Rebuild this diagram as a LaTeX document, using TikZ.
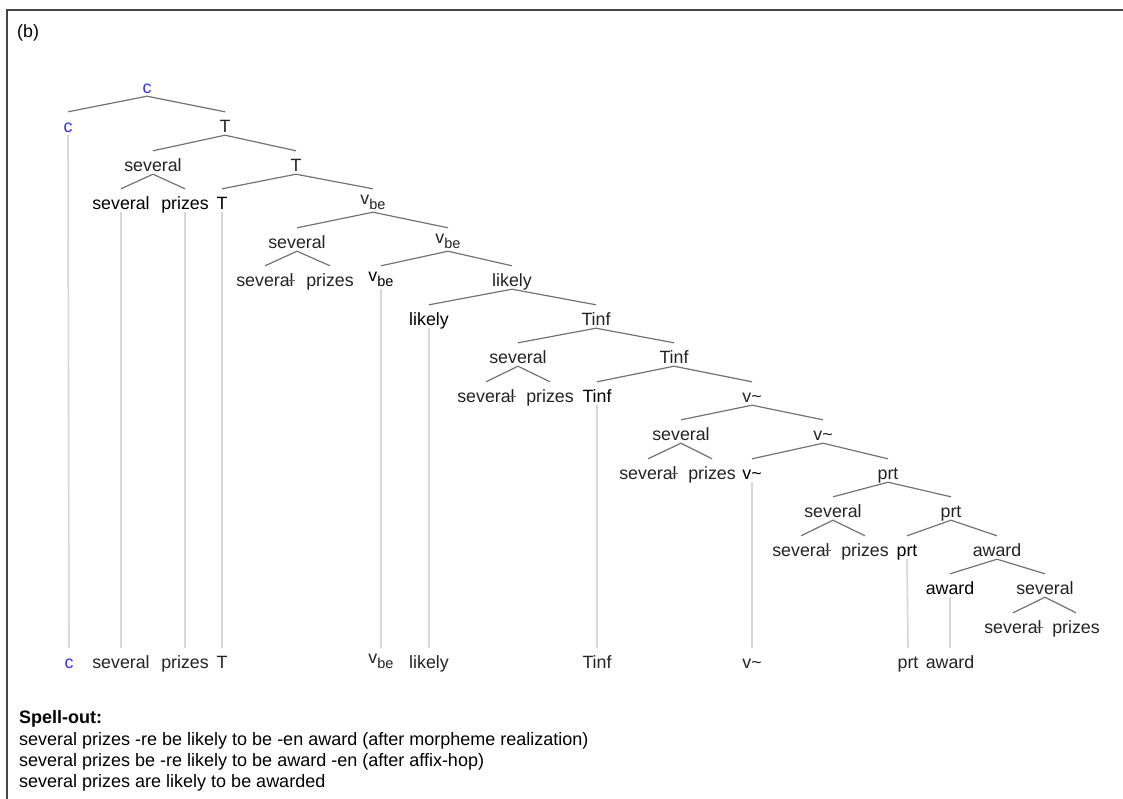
\documentclass[tikz,border=0pt]{standalone}
\usepackage{fontspec}
\setmainfont{Liberation Sans}
\definecolor{txt}{RGB}{35,35,35}
\definecolor{pron}{RGB}{0,0,0}
\definecolor{compl}{RGB}{50,50,245}
\definecolor{branch}{RGB}{115,115,115}
\definecolor{trace}{RGB}{215,215,215}
\definecolor{framecol}{RGB}{70,70,70}
\newcommand{\vbe}{\raisebox{5pt}{v}{\fontsize{14.5}{15}\selectfont be}}
\newcommand{\vtl}{v\textasciitilde}
\tikzset{
  lbl/.style={text=txt, inner sep=0pt, anchor=base, text height=20pt, text depth=3pt},
  pr/.style={lbl, text=pron},
  cmp/.style={lbl, text=compl},
  branchline/.style={draw=branch, line width=1.2pt},
  traceline/.style={draw=trace, line width=1.6pt},
  struck/.style={draw=txt!70, line width=0.9pt},
  spell/.style={text=black, inner sep=0pt, anchor=base west, font=\fontsize{18}{21}\selectfont},
}
\begin{document}
\begin{tikzpicture}[x=1pt, y=-1pt, font=\fontsize{17.8}{21}\selectfont]
\useasboundingbox (0,0) rectangle (1123,798);
\fill[white] (0,0) rectangle (1123,798);
% frame
\draw[draw=framecol, line width=2pt] (7,800) -- (7,9.5) -- (1125,9.5);
\node[anchor=base west, inner sep=0pt] (tag) at (17,37) {(b)};

% tree nodes, row by row
\node[cmp] (C0) at (147,93) {c};
\node[cmp] (c1) at (68,132) {c};
\node[lbl] (T1) at (225,132) {T};
\node[lbl] (sp1) at (153,171) {several};
\node[lbl] (T2) at (296,171) {T};
\node[pr] (s1) at (121,209) {several};
\node[pr] (p1) at (185,209) {prizes};
\node[pr] (T3) at (222,209) {T};
\node[lbl] (vb1) at (373,209) {\vbe};
\node[lbl] (sp2) at (297,248) {several};
\node[lbl] (vb2) at (448,248) {\vbe};
\node[lbl] (s2) at (265,286) {several};
\node[lbl] (p2) at (330,286) {prizes};
\node[pr] (vb3) at (381,286) {\vbe};
\node[lbl] (lk1) at (512,286) {likely};
\node[pr] (lk2) at (429,325) {likely};
\node[lbl] (ti1) at (596,325) {Tinf};
\node[lbl] (sp3) at (518,363) {several};
\node[lbl] (ti2) at (674,363) {Tinf};
\node[lbl] (s3) at (486,402) {several};
\node[lbl] (p3) at (550,402) {prizes};
\node[pr] (ti3) at (597,402) {Tinf};
\node[lbl] (vt1) at (752,402) {\vtl};
\node[lbl] (sp4) at (681,440) {several};
\node[lbl] (vt2) at (823,440) {\vtl};
\node[lbl] (s4) at (648,479) {several};
\node[lbl] (p4) at (712,479) {prizes};
\node[pr] (vt3) at (752,479) {\vtl};
\node[lbl] (pr1) at (888,479) {prt};
\node[lbl] (sp5) at (833,517) {several};
\node[lbl] (pr2) at (951,517) {prt};
\node[lbl] (s5) at (801,556) {several};
\node[lbl] (p5) at (865,556) {prizes};
\node[pr] (pr3) at (907,556) {prt};
\node[lbl] (aw1) at (997,556) {award};
\node[pr] (aw2) at (950,594) {award};
\node[lbl] (sp6) at (1045,594) {several};
\node[lbl] (s6) at (1013,633) {several};
\node[lbl] (p6) at (1076,633) {prizes};

% terminal string
\node[cmp] (f1) at (69,668) {c};
\node[lbl] (f2) at (121,668) {several};
\node[lbl] (f3) at (185,668) {prizes};
\node[lbl] (f4) at (222,668) {T};
\node[lbl] (f5) at (381,668) {\vbe};
\node[lbl] (f6) at (429,668) {likely};
\node[lbl] (f7) at (597,668) {Tinf};
\node[lbl] (f8) at (752,668) {\vtl};
\node[lbl] (f9) at (908,668) {prt};
\node[lbl] (f10) at (950,668) {award};

% branches
\foreach \p/\a/\b in {C0/c1/T1, T1/sp1/T2, sp1/s1/p1, T2/T3/vb1, vb1/sp2/vb2,
    sp2/s2/p2, vb2/vb3/lk1, lk1/lk2/ti1, ti1/sp3/ti2, sp3/s3/p3, ti2/ti3/vt1,
    vt1/sp4/vt2, sp4/s4/p4, vt2/vt3/pr1, pr1/sp5/pr2, sp5/s5/p5, pr2/pr3/aw1,
    aw1/aw2/sp6, sp6/s6/p6}
  {\draw[branchline] (\p.south) -- (\a.north);
   \draw[branchline] (\p.south) -- (\b.north);}

% lines from pronounced heads down to the terminal string
\foreach \h/\t in {c1/f1, s1/f2, p1/f3, T3/f4, vb3/f5, lk2/f6, ti3/f7, vt3/f8, pr3/f9, aw2/f10}
  {\draw[traceline] (\h.south) -- (\t.north);}

% deleted copies: stroke through the final letter
\foreach \s in {s2, s3, s4, s5, s6}
  {\draw[struck] ([xshift=-5pt,yshift=5.5pt]\s.base east) -- ([xshift=1.5pt,yshift=5.5pt]\s.base east);}

% spell-out
\node[spell] (so0) at (19,723.5) {\textbf{Spell-out:}};
\node[spell] (so1) at (19,745) {several prizes -re be likely to be -en award (after morpheme realization)};
\node[spell] (so2) at (19,766) {several prizes be -re likely to be award -en (after affix-hop)};
\node[spell] (so3) at (19,787) {several prizes are likely to be awarded};
\end{tikzpicture}
\end{document}
